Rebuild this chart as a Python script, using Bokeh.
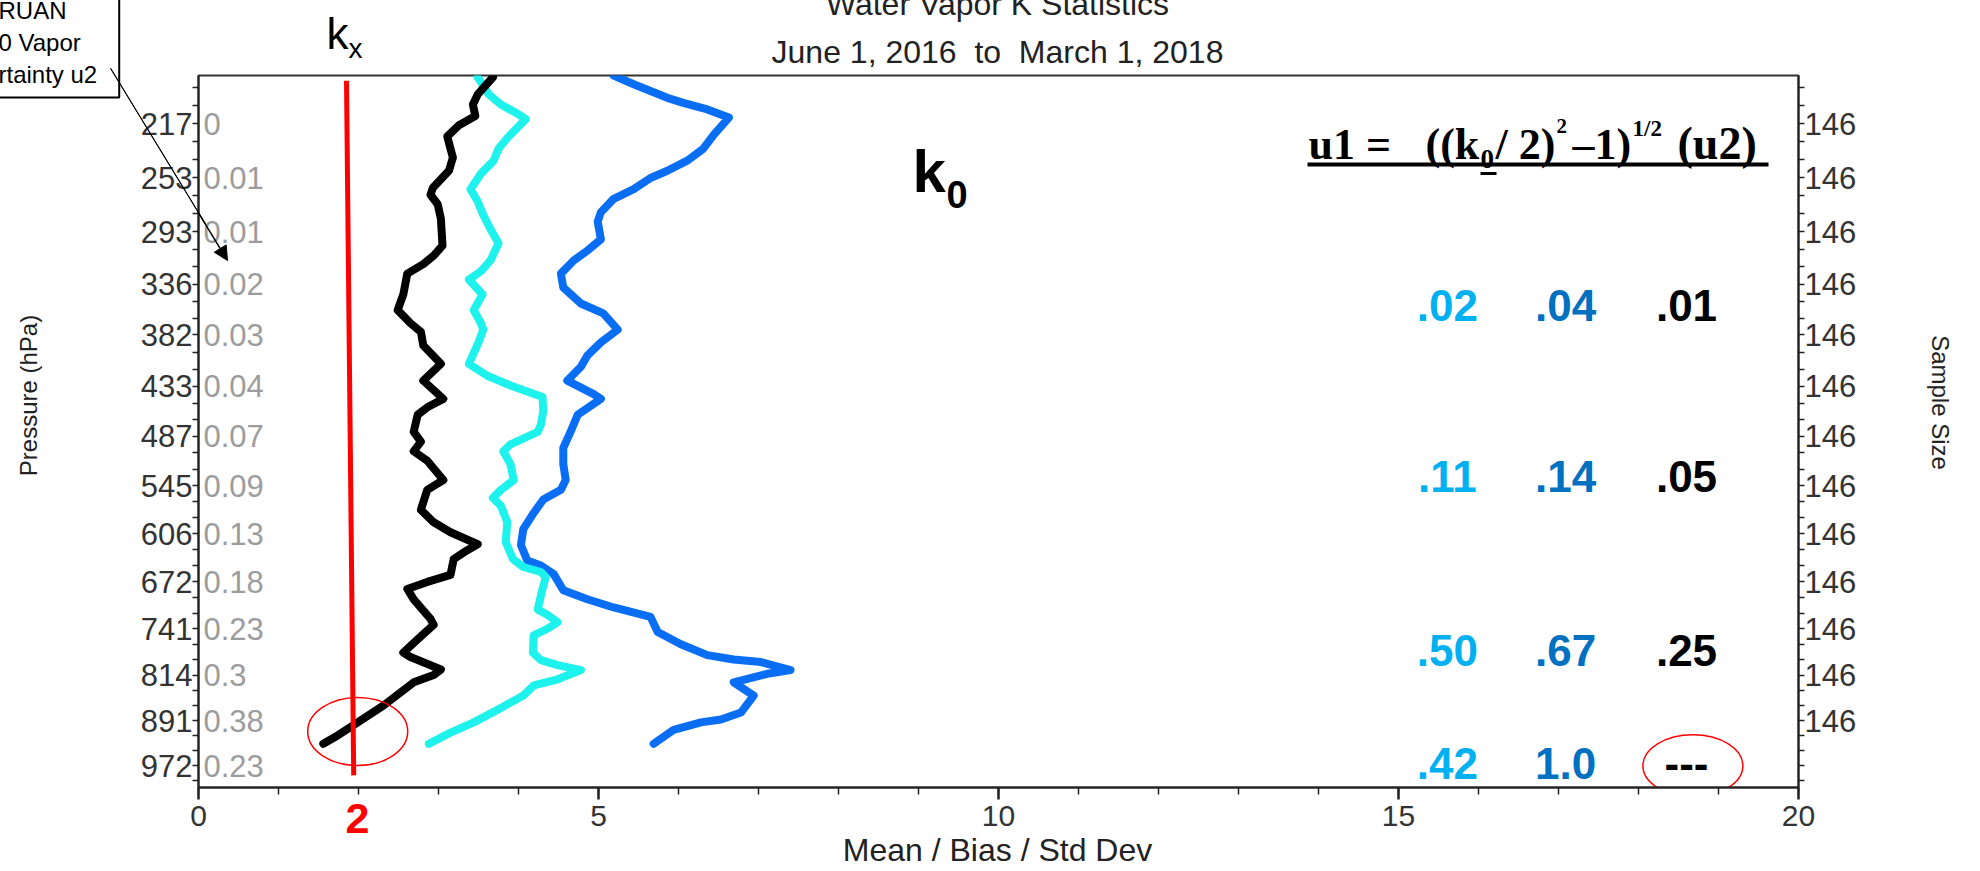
import numpy as np
from bokeh.plotting import figure
from bokeh.models import (Range1d, FixedTicker, SingleIntervalTicker, LinearAxis,
                          CustomJSTickFormatter, Label, Arrow, NormalHead, ColumnDataSource)
from bokeh.core.properties import value
from bokeh.embed import file_html
from bokeh.resources import INLINE

# ---------------- data ----------------
pressure_levels = [217, 253, 293, 336, 382, 433, 487, 545, 606, 672, 741, 814, 891, 972]
u2_at_level = ["0", "0.01", "0.01", "0.02", "0.03", "0.04", "0.07", "0.09",
               "0.13", "0.18", "0.23", "0.3", "0.38", "0.23"]
sample_size = ["146"] * 13 + [""]
x_limits = [0, 20]
p_limits = [188, 1013]

black_p = [189, 199, 205, 212, 218, 225, 233, 239, 248, 260, 265, 272, 283, 304, 312, 319, 327,
           345, 359, 371, 379, 392, 410, 427, 446, 455, 463, 482, 493, 504, 515, 538, 550, 575,
           591, 604, 620, 628, 640, 662, 672, 682, 697, 726, 735, 757, 778, 785, 805, 814, 826,
           865, 894, 917, 932]
black_x = [3.68, 3.49, 3.43, 3.46, 3.25, 3.11, 3.15, 3.18, 3.13, 2.93, 2.90, 2.99, 3.03, 3.05,
           2.94, 2.81, 2.61, 2.56, 2.49, 2.65, 2.78, 2.81, 3.03, 2.81, 3.06, 2.86, 2.74, 2.69,
           2.78, 2.69, 2.86, 3.06, 2.86, 2.78, 2.94, 3.15, 3.49, 3.36, 3.19, 3.15, 2.86, 2.61,
           2.69, 2.90, 2.94, 2.74, 2.56, 2.65, 3.03, 2.94, 2.69, 2.31, 1.99, 1.74, 1.56]

cyan_p = [189, 199, 205, 211, 214, 226, 233, 241, 250, 261, 270, 280, 291, 302, 316, 325, 332,
          345, 359, 371, 377, 389, 410, 422, 432, 444, 459, 474, 482, 496, 504, 519, 538, 550,
          560, 570, 591, 617, 640, 651, 658, 665, 682, 712, 720, 731, 741, 751, 778, 790, 798,
          806, 821, 831, 848, 869, 894, 912, 932]
cyan_x = [3.49, 3.63, 3.78, 4.00, 4.09, 3.86, 3.75, 3.69, 3.53, 3.40, 3.49, 3.56, 3.65, 3.75,
          3.65, 3.53, 3.38, 3.55, 3.44, 3.53, 3.56, 3.50, 3.38, 3.61, 3.90, 4.30, 4.31, 4.28,
          4.24, 3.90, 3.81, 3.90, 3.94, 3.78, 3.68, 3.78, 3.86, 3.84, 3.93, 4.06, 4.28, 4.34,
          4.30, 4.24, 4.36, 4.49, 4.36, 4.19, 4.18, 4.28, 4.49, 4.78, 4.49, 4.19, 4.06, 3.78,
          3.44, 3.15, 2.88]

blue_p = [188, 193, 201, 204, 208, 213, 224, 233, 241, 248, 253, 261, 268, 278, 285, 299, 308,
          316, 327, 339, 353, 362, 377, 389, 402, 413, 427, 441, 446, 463, 482, 500, 519, 538,
          550, 562, 579, 600, 621, 642, 649, 661, 684, 697, 709, 723, 746, 765, 782, 789, 793,
          806, 812, 826, 848, 877, 889, 894, 907, 932]
blue_x = [5.19, 5.44, 5.86, 6.06, 6.36, 6.63, 6.44, 6.31, 6.11, 5.86, 5.65, 5.44, 5.19, 5.03,
          4.99, 5.03, 4.86, 4.69, 4.53, 4.56, 4.78, 5.06, 5.24, 5.03, 4.86, 4.78, 4.61, 4.94,
          5.03, 4.74, 4.65, 4.56, 4.56, 4.59, 4.53, 4.31, 4.19, 4.06, 4.03, 4.11, 4.28, 4.44,
          4.56, 4.86, 5.19, 5.65, 5.74, 6.03, 6.36, 6.69, 7.03, 7.40, 7.11, 6.69, 6.94, 6.78,
          6.53, 6.28, 5.94, 5.69]

kx_x = [1.85, 1.94]
kx_p = [191, 990]

u1_layer_p = [355, 534, 774, 968]
u1_cyan = [".02", ".11", ".50", ".42"]
u1_blue = [".04", ".14", ".67", "1.0"]
u1_black = [".01", ".05", ".25", "---"]

# ---------------- scales / helpers ----------------
def F(pv):
    return np.asarray(pv, dtype=float) ** 0.28

Y_TOP = float(F(p_limits[0]))
Y_BOT = float(F(p_limits[1]))

FL, FT, FW, FH = 198, 75, 1600, 712   # frame box in canvas px

def X(px):
    return (px - FL) / FW * (x_limits[1] - x_limits[0]) + x_limits[0]

def Y(py):
    return Y_TOP + (py - FT) / FH * (Y_BOT - Y_TOP)

W, H = 1976, 870
p = figure(width=W, height=H, output_backend="svg", toolbar_location=None,
           x_range=Range1d(x_limits[0], x_limits[1]), y_range=Range1d(Y_BOT, Y_TOP),
           min_border_left=FL, min_border_right=W - FL - FW,
           min_border_top=FT, min_border_bottom=H - FT - FH)
p.xgrid.visible = False
p.ygrid.visible = False
p.outline_line_color = "#333333"
p.outline_line_width = 2
p.background_fill_color = "white"
p.border_fill_color = "white"

FONT = "Liberation Sans"
SERIF = "Liberation Serif"

# y ticks
fl = [float(v) for v in F(pressure_levels)]
minor = []
for a, b in zip(fl[:-1], fl[1:]):
    minor += [a + (b - a) / 3, a + 2 * (b - a) / 3]
d0 = (fl[1] - fl[0]) / 3
minor += [fl[0] - d0, fl[0] - 2 * d0]
d1 = (fl[-1] - fl[-2]) / 3
minor += [fl[-1] + d1]

JS = """
let best = 0;
for (let i = 1; i < pos.length; i++) {
  if (Math.abs(pos[i] - tick) < Math.abs(pos[best] - tick)) best = i;
}
return labs[best];
"""

def style_yaxis(ax, labels):
    ax.ticker = FixedTicker(ticks=fl, minor_ticks=minor)
    ax.formatter = CustomJSTickFormatter(args=dict(pos=fl, labs=[str(s) for s in labels]), code=JS)
    ax.major_label_text_font = FONT
    ax.major_label_text_font_size = "31px"
    ax.major_label_text_color = "#333333"
    ax.major_tick_in = 0
    ax.minor_tick_in = 0
    ax.major_tick_out = 6
    ax.minor_tick_out = 6
    ax.major_label_standoff = 0
    ax.axis_line_width = 2
    ax.axis_line_color = "#222222"
    ax.major_tick_line_color = "#222222"
    ax.minor_tick_line_color = "#222222"
    ax.major_tick_line_width = 1.5
    ax.minor_tick_line_width = 1.5

style_yaxis(p.yaxis[0], pressure_levels)
rax = LinearAxis()
style_yaxis(rax, sample_size)
p.add_layout(rax, "right")

xa = p.xaxis[0]
xa.ticker = SingleIntervalTicker(interval=5, num_minor_ticks=5)
xa.major_label_text_font = FONT
xa.major_label_text_font_size = "30px"
xa.major_label_text_color = "#333333"
xa.major_tick_in = 0
xa.minor_tick_in = 0
xa.major_tick_out = 12
xa.minor_tick_out = 7
xa.major_label_standoff = 6
xa.axis_line_width = 2
xa.axis_line_color = "#222222"
xa.major_tick_line_width = 2.5
xa.minor_tick_line_width = 1.5
xa.major_tick_line_color = "#222222"
xa.minor_tick_line_color = "#222222"

# u2 labels inside the frame
p.text(x=[x_limits[0]] * len(pressure_levels), y=fl, text=u2_at_level, x_offset=5,
       text_align="left", text_baseline="middle", text_font=value(FONT),
       text_font_size=value("31px"), text_color="#9c9c9c")

# curves
LW = 8
p.line(blue_x, F(blue_p), line_color="#0a6ef5", line_width=LW, line_join="round", line_cap="round")
p.line(cyan_x, F(cyan_p), line_color="#1ef2ec", line_width=LW, line_join="round", line_cap="round")
p.line(black_x, F(black_p), line_color="#000000", line_width=LW, line_join="round", line_cap="round")
p.line(kx_x, F(kx_p), line_color="#ff0000", line_width=5)

# red ellipses
p.ellipse(x=[1.99], y=[float(F(910))], width=100, height=68, width_units="screen",
          height_units="screen", fill_color=None, line_color="#ff0000", line_width=1.5)
p.ellipse(x=[18.68], y=[float(F(972))], width=100, height=62, width_units="screen",
          height_units="screen", fill_color=None, line_color="#ff0000", line_width=1.5)

# u1 table
for col_x, vals, col in [(15.61, u1_cyan, "#00b0f0"), (17.09, u1_blue, "#0070c0"), (18.6, u1_black, "#000000")]:
    src = ColumnDataSource(dict(x=[col_x] * len(vals), y=[float(v) for v in F(u1_layer_p)], t=vals))
    p.text(x="x", y="y", text="t", source=src, text_align="center", text_baseline="middle",
           text_font=value(FONT), text_font_size=value("44px"), text_font_style="bold",
           text_color=col)

# ---------------- annotations ----------------
def lab(text, px, base, size, align="left", color="#222222", font=FONT, style="normal",
        angle=0.0, side="center", center=False):
    # base: baseline in canvas px (or centre if center=True)
    k = 0.3465 if font == FONT else 0.3375
    cy = base if center else base - k * size
    lbl = Label(x=X(px), y=Y(cy), text=text, text_font=font,
                text_font_size=f"{size}px", text_font_style=style, text_color=color,
                text_align=align, text_baseline="middle", angle=angle)
    p.add_layout(lbl, side)

def seg(px0, py0, px1, py1, width, color="black", head=None):
    p.add_layout(Arrow(end=head, x_start=X(px0), y_start=Y(py0), x_end=X(px1), y_end=Y(py1),
                       line_width=width, line_color=color, level="overlay"))

# titles (above panel)
lab("Water Vapor K Statistics", 997, 15, 32, align="center", side="above")
lab("June 1, 2016 \u00a0to\u00a0 March 1, 2018", 997, 63, 32, align="center", side="above")

# x axis title (below panel)
lab("Mean / Bias / Std Dev", 997, 861, 32, align="center", side="below")

# vertical axis titles
lab("Pressure (hPa)", 28, 395, 24, align="center", angle=np.pi / 2, side="right", center=True)
lab("Sample Size", 1940, 402, 24, align="center", angle=-np.pi / 2, side="right", center=True)

# k_x label
lab("k", 326, 48, 44, color="#000000", side="right")
lab("x", 348, 58, 28, color="#000000", side="left")
# red "2"
lab("2", 357, 833, 43, align="center", color="#ff0000", style="bold", side="right")

# k_0 label (inside frame)
lab("k", 912, 192, 60, color="#000000", style="bold")
lab("0", 946, 207, 38, color="#000000", style="bold")

# formula  u1 = ((k0/ 2)^2 -1)^(1/2) (u2)   (inside frame)
fs = 44
lab("u1 =", 1308, 159, fs, color="#000000", font=SERIF, style="bold")
lab("((k", 1425, 159, fs, color="#000000", font=SERIF, style="bold")
lab("0", 1480, 168, 27, color="#000000", font=SERIF, style="bold")
lab("/ 2)", 1495, 159, fs, color="#000000", font=SERIF, style="bold")
lab("2", 1556, 133, 21, color="#000000", font=SERIF, style="bold")
lab("\u20131)", 1572, 159, fs, color="#000000", font=SERIF, style="bold")
lab("1/2", 1632, 136, 23, color="#000000", font=SERIF, style="bold")
lab("(u2)", 1677, 159, 46, color="#000000", font=SERIF, style="bold")
seg(1307, 164, 1768, 164, 4)
seg(1480, 173, 1496, 173, 3)

# call-out box (cut at the page edge) with its text
callout = Label(x=X(-2), y=Y(97), text="RUAN\n0 Vapor\nrtainty u2", text_font=FONT,
                text_font_size="24px", text_color="#000000", text_align="left",
                text_baseline="bottom", text_line_height=1.2,
                border_line_color="#000000", border_line_width=2,
                background_fill_color="white",
                padding=dict(left=0, right=22, top=12, bottom=9))
p.add_layout(callout, "left")

# call-out arrow: the part outside the frame is drawn as a thin rotated box
ax0, ay0, ax1, ay1 = 110, 68, 227, 260
theta = float(np.arctan2(ax1 - ax0, ay1 - ay0))        # rotation of a downward segment
outside_len = int(round((FL + 6 - ax0) / np.sin(theta)))
arrow_line = Label(x=X(ax0), y=Y(ay0), text=" ", text_font=FONT, text_font_size="1px",
                   text_align="left", text_baseline="top", angle=theta,
                   border_line_color="#000000", border_line_width=1,
                   padding=dict(left=0, right=0, top=0, bottom=outside_len))
p.add_layout(arrow_line, "right")
seg(ax0, ay0, ax1, ay1, 1.5, head=NormalHead(size=14, fill_color="black", line_color="black"))

open("out.html", "w").write(file_html(p, INLINE))
